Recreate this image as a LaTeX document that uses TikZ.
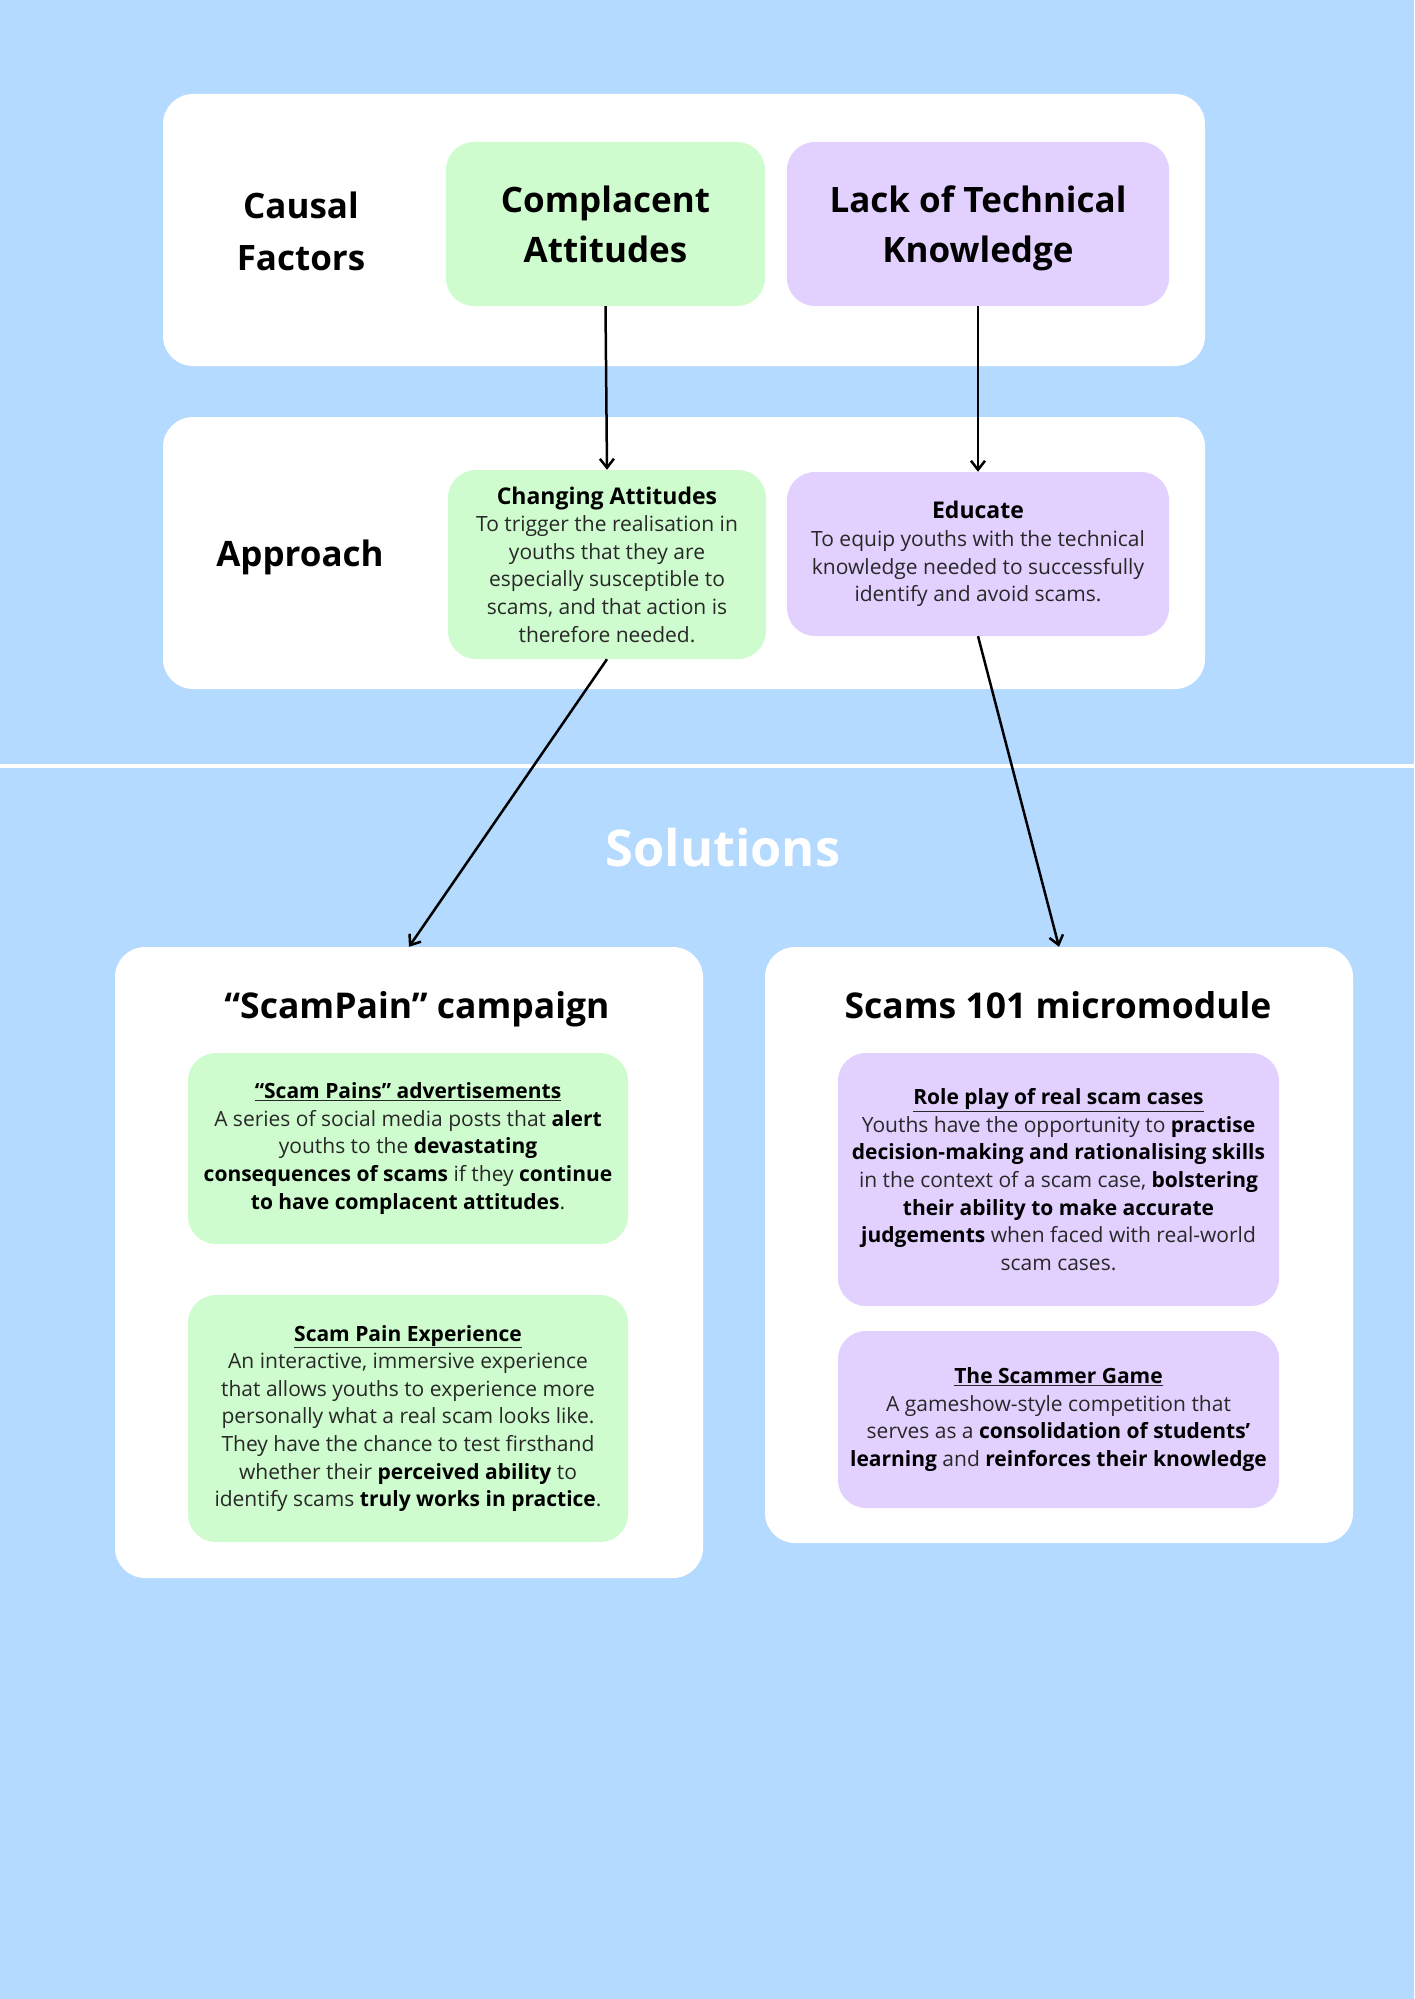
\documentclass[tikz,border=0pt]{standalone}
\usepackage{fontspec}
\setmainfont{Open Sans}
\usetikzlibrary{arrows.meta}
\definecolor{skyback}{RGB}{180,218,255}
\definecolor{mintbox}{RGB}{206,252,206}
\definecolor{lilacbox}{RGB}{226,208,255}
\definecolor{inkgrey}{RGB}{40,40,40}

\begin{document}
\begin{tikzpicture}
[x=1pt,y=-1pt,
panel/.style={fill=white,rounded corners=30pt,inner sep=0pt},
mintnode/.style={fill=mintbox,rounded corners=28pt,align=center,inner sep=0pt},
lilacnode/.style={fill=lilacbox,rounded corners=28pt,align=center,inner sep=0pt},
rowlabel/.style={font=\fontsize{35}{52}\selectfont\bfseries,align=center},
factortext/.style={font=\fontsize{35}{50}\selectfont\bfseries,text depth=0pt},
bodytext/.style={font=\fontsize{21}{27.6}\selectfont,text=inkgrey},
panelhead/.style={font=\fontsize{35.5}{40}\selectfont\bfseries,text height=27pt,text depth=8pt},
link/.style={draw=black,line width=2.5pt,-{Straight Barb[length=9pt,width=14pt]}}
]
\path[use as bounding box,fill=skyback] (0,0) rectangle (1414,1999);
\draw[white,line width=4pt] (0,766) -- (1414,766);

\node[panel,minimum width=1042pt,minimum height=272pt] (causes) at (684,230) {};
\node[panel,minimum width=1042pt,minimum height=272pt] (approaches) at (684,553) {};
\node[rowlabel] (causelabel) at (301,231) {Causal\\Factors};
\node[rowlabel] (approachlabel) at (300,557) {Approach};

\node[mintnode,factortext,minimum width=319pt,minimum height=164pt] (comp) at (605.5,224) {Complacent\\Attitudes};
\node[lilacnode,factortext,minimum width=382pt,minimum height=164pt] (lack) at (978,224) {Lack of Technical\\Knowledge};

\node[mintnode,bodytext,minimum width=318pt,minimum height=189pt] (chg) at (607,564.5)
  {{\fontsize{23}{31}\selectfont\bfseries\color{black}Changing Attitudes}\\
   To trigger the realisation in\\ youths that they are\\ especially susceptible to\\
   scams, and that action is\\ therefore needed.};
\node[lilacnode,bodytext,minimum width=382pt,minimum height=164pt] (edu) at (978,554)
  {{\fontsize{23}{31}\selectfont\bfseries\color{black}Educate}\\
   To equip youths with the technical\\ knowledge needed to successfully\\
   identify and avoid scams.};

\node[font=\fontsize{50.5}{60}\selectfont\bfseries,text=white] (soltitle) at (723,848) {Solutions};

\node[panel,minimum width=588pt,minimum height=631pt] (camp) at (409,1262.5) {};
\node[panel,minimum width=588pt,minimum height=596pt] (micro) at (1059,1245) {};
\node[panelhead] (camphead) at (417,1009) {“ScamPain” campaign};
\node[panelhead] (microhead) at (1058,1009) {Scams 101 micromodule};

\node[mintnode,bodytext,minimum width=440pt,minimum height=191pt] (ads) at (408,1148.5)
  {\underline{\textbf{\color{black}“Scam Pains” advertisements}}\\
   A series of social media posts that \textbf{\color{black}alert}\\
   youths to the \textbf{\color{black}devastating}\\
   \textbf{\color{black}consequences of scams} if they \textbf{\color{black}continue}\\
   \textbf{\color{black}to have complacent attitudes}.};
\node[mintnode,bodytext,minimum width=440pt,minimum height=247pt] (exper) at (408,1418.5)
  {\underline{\textbf{\color{black}Scam Pain Experience}}\\
   An interactive, immersive experience\\
   that allows youths to experience more\\
   personally what a real scam looks like.\\
   They have the chance to test firsthand\\
   whether their \textbf{\color{black}perceived ability} to\\
   identify scams \textbf{\color{black}truly works in practice}.};

\node[lilacnode,bodytext,minimum width=441pt,minimum height=253pt] (role) at (1058.5,1179.5)
  {\underline{\textbf{\color{black}Role play of real scam cases}}\\
   Youths have the opportunity to \textbf{\color{black}practise}\\
   \textbf{\color{black}decision-making and rationalising skills}\\
   in the context of a scam case, \textbf{\color{black}bolstering}\\
   \textbf{\color{black}their ability to make accurate}\\
   \textbf{\color{black}judgements} when faced with real-world\\
   scam cases.};
\node[lilacnode,bodytext,minimum width=441pt,minimum height=177pt] (game) at (1058.5,1419.5)
  {\underline{\textbf{\color{black}The Scammer Game}}\\
   A gameshow-style competition that\\
   serves as a \textbf{\color{black}consolidation of students’}\\
   \textbf{\color{black}learning} and \textbf{\color{black}reinforces their knowledge}};

\draw[link] (comp.south) -- (chg.north);
\draw[link] (lack.south) -- (edu.north);
\draw[link] (chg.south) -- (camp.north);
\draw[link] (edu.south) -- (micro.north);
\end{tikzpicture}
\end{document}
